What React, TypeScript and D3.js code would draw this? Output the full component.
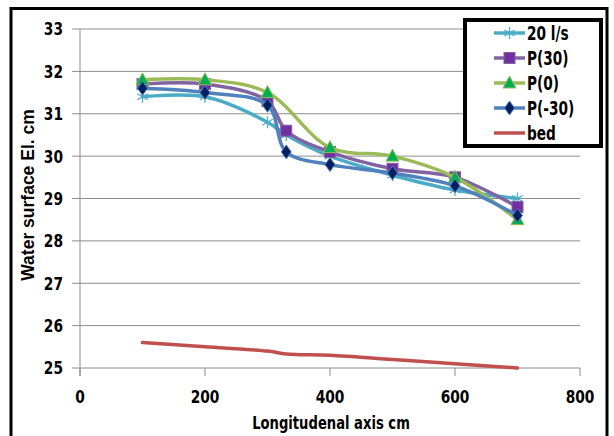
import React from "react";
import * as d3 from "d3";

const xs20 = [100, 200, 300, 330, 400, 500, 600, 700];
const y20 = [31.4, 31.4, 30.8, 30.5, 30.0, 29.55, 29.2, 29.0];
const xsP30 = [100, 200, 300, 330, 400, 500, 600, 700];
const yP30 = [31.7, 31.7, 31.3, 30.6, 30.1, 29.7, 29.5, 28.8];
const xsP0 = [100, 200, 300, 400, 500, 600, 700];
const yP0 = [31.8, 31.8, 31.5, 30.2, 30.0, 29.5, 28.5];
const xsPm30 = [100, 200, 300, 330, 400, 500, 600, 700];
const yPm30 = [31.6, 31.5, 31.2, 30.1, 29.8, 29.6, 29.3, 28.6];
const xsBed = [100, 200, 300, 330, 400, 500, 600, 700];
const yBed = [25.6, 25.5, 25.4, 25.33, 25.3, 25.2, 25.1, 25.0];

const xTicks = [0, 200, 400, 600, 800];
const yTicks = [25, 26, 27, 28, 29, 30, 31, 32, 33];

type Series = { name: string; xs: number[]; ys: number[]; line: string; marker: string; shape: string };
const series: Series[] = [
  { name: "bed", xs: xsBed, ys: yBed, line: "#C0504D", marker: "#C0504D", shape: "none" },
  { name: "20 l/s", xs: xs20, ys: y20, line: "#4BACC6", marker: "#4BACC6", shape: "star" },
  { name: "P(30)", xs: xsP30, ys: yP30, line: "#8064A2", marker: "#7030A0", shape: "square" },
  { name: "P(0)", xs: xsP0, ys: yP0, line: "#9BBB59", marker: "#00B050", shape: "triangle" },
  { name: "P(-30)", xs: xsPm30, ys: yPm30, line: "#4F81BD", marker: "#002060", shape: "diamond" },
];
const legendOrder = ["20 l/s", "P(30)", "P(0)", "P(-30)", "bed"];

const FONT = "'DejaVu Sans', sans-serif";

function CText({ x, y, size, sx, anchor, children, rotate }: { x: number; y: number; size: number; sx: number; anchor: string; children: React.ReactNode; rotate?: number }) {
  return (
    <text transform={`translate(${x},${y})${rotate ? ` rotate(${rotate})` : ""} scale(${sx},1)`} dy="0.36em" textAnchor={anchor}
      fontFamily={FONT} fontWeight="bold" fontSize={size} style={{ fontStretch: "condensed" }} fill="#000">{children}</text>
  );
}

function Marker({ shape, color, x, y }: { shape: string; color: string; x: number; y: number }) {
  if (shape === "square") return <rect x={x - 5.5} y={y - 5.5} width={11} height={11} fill={color} stroke="#8064A2" strokeWidth={1} />;
  if (shape === "triangle") return <path d={`M${x},${y - 7}L${x + 6.5},${y + 5}L${x - 6.5},${y + 5}Z`} fill={color} stroke="#9BBB59" strokeWidth={1} />;
  if (shape === "diamond") return <path d={`M${x},${y - 7}L${x + 5},${y}L${x},${y + 7}L${x - 5},${y}Z`} fill={color} stroke="#4F81BD" strokeWidth={1} />;
  if (shape === "star") {
    const r = 6;
    return (
      <g stroke={color} strokeWidth={1.3}>
        <line x1={x} y1={y - r} x2={x} y2={y + r} />
        <line x1={x - r * 0.87} y1={y - r * 0.5} x2={x + r * 0.87} y2={y + r * 0.5} />
        <line x1={x - r * 0.87} y1={y + r * 0.5} x2={x + r * 0.87} y2={y - r * 0.5} />
      </g>
    );
  }
  return null;
}

export default function App() {
  const W = 614, H = 436;
  const x = d3.scaleLinear().domain([0, 800]).range([80, 580]);
  const y = d3.scaleLinear().domain([25, 33]).range([368, 29]);
  const line = d3.line<[number, number]>().x(d => x(d[0])).y(d => y(d[1])).curve(d3.curveCatmullRom.alpha(0.5));

  return (
    <svg width={W} height={H} style={{ position: "absolute", left: 0, top: 0, background: "#fff" }}>
      <rect x={0} y={0} width={W} height={H} fill="#fff" />
      <rect x={11} y={8.5} width={596} height={440} fill="none" stroke="#000" strokeWidth={3} />
      {yTicks.map(t => (
        <g key={t}>
          <line x1={72} x2={580} y1={y(t)} y2={y(t)} stroke="#8c8c8c" strokeWidth={1} />
          <CText x={63} y={y(t)} size={18} sx={0.85} anchor="end">{t}</CText>
        </g>
      ))}
      <line x1={x(0)} x2={x(0)} y1={y(33)} y2={376} stroke="#8c8c8c" strokeWidth={1} />
      {xTicks.map(t => (
        <g key={t}>
          <line x1={x(t)} x2={x(t)} y1={368} y2={376} stroke="#8c8c8c" strokeWidth={1} />
          <CText x={x(t)} y={397} size={18} sx={0.85} anchor="middle">{t}</CText>
        </g>
      ))}
      <CText x={331} y={423} size={17} sx={0.86} anchor="middle">Longitudenal axis cm</CText>
      <text transform={`translate(28,195) rotate(-90)`} textAnchor="middle" dy="0.35em" fontFamily="'Liberation Sans', Arial, sans-serif" fontWeight="bold" fontSize={17.5} fill="#000">Water surface El. cm</text>
      {series.map(s => {
        const pts = s.xs.map((v, i) => [v, s.ys[i]] as [number, number]);
        return (
          <g key={s.name}>
            <path d={line(pts) || ""} fill="none" stroke={s.line} strokeWidth={3.5} strokeLinejoin="round" strokeLinecap="round" />
            {pts.map((p, i) => <Marker key={i} shape={s.shape} color={s.marker} x={x(p[0])} y={y(p[1])} />)}
          </g>
        );
      })}
      <rect x={465} y={20} width={136} height={126} fill="#fff" stroke="#000" strokeWidth={4} />
      {legendOrder.map((n, i) => {
        const s = series.find(q => q.name === n)!;
        const ly = 33 + i * 25;
        return (
          <g key={n}>
            <line x1={494} x2={525} y1={ly} y2={ly} stroke={s.line} strokeWidth={3.5} />
            <Marker shape={s.shape} color={s.marker} x={509.5} y={ly} />
            <CText x={527} y={ly} size={20} sx={0.76} anchor="start">{n}</CText>
          </g>
        );
      })}
    </svg>
  );
}
